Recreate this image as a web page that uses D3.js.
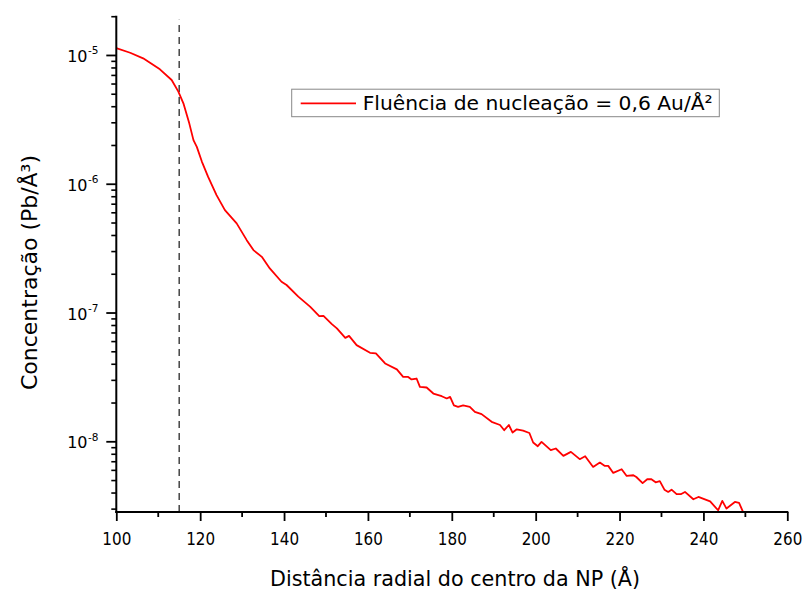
<!DOCTYPE html>
<html>
<head>
<meta charset="utf-8">
<script src="https://cdn.jsdelivr.net/npm/d3@7"></script>
<style>
  html, body { margin: 0; padding: 0; background: #fff; }
  svg { display: block; }
  text { font-family: "DejaVu Sans", Verdana, sans-serif; fill: #000; }
</style>
</head>
<body>
<svg id="chart" width="806" height="593"></svg>
<script>
// Radial distance from the NP centre (Å)
const distance = [
  100, 103.3, 106.4, 110.4, 113.2, 114.8, 116, 117.4, 118.4, 119.2,
  120.4, 121.9, 123.9, 125.9, 128.7, 131.1, 132.7, 134.7, 136.6, 139.4,
  140.6, 143.4, 146.2, 148.4, 149.4, 151.4, 152.6, 154.6, 155.5, 157.3,
  160.5, 161.9, 164.1, 166.9, 168.4, 169.6, 170.4, 171.6, 172.4, 174,
  175.6, 177.6, 178.8, 179.6, 180.5, 181.5, 182.7, 184.3, 185.5, 187.1,
  189.5, 191.5, 192.5, 193.6, 194.5, 195.5, 197, 198.5, 199.4, 200.5,
  201.4, 203.6, 204.8, 206.6, 208.4, 210.5, 211.8, 213.7, 215.3, 216.5,
  217.3, 218.5, 220.5, 221.7, 223.3, 224, 225.5, 226.6, 227.6, 228.6,
  229.6, 230.7, 231.6, 232.4, 233.6, 234.6, 235.6, 237.6, 238.8, 241.6,
  243.5, 244.5, 245.5, 247.5, 248.5, 250
];
// Pb concentration (Pb/Å³)
const concentration = [
  1.14e-5, 1.05e-5, 9.5e-6, 7.8e-6, 6.45e-6, 5.24e-6, 4.25e-6, 2.97e-6, 2.2e-6, 1.95e-6,
  1.5e-6, 1.14e-6, 8.24e-7, 6.3e-7, 4.97e-7, 3.68e-7, 3.08e-7, 2.73e-7, 2.22e-7, 1.75e-7,
  1.65e-7, 1.34e-7, 1.12e-7, 9.46e-8, 9.5e-8, 8.2e-8, 7.6e-8, 6.41e-8, 6.65e-8, 5.63e-8,
  4.91e-8, 4.86e-8, 4.06e-8, 3.65e-8, 3.19e-8, 3.19e-8, 3.05e-8, 3.1e-8, 2.67e-8, 2.64e-8,
  2.37e-8, 2.26e-8, 2.17e-8, 2.23e-8, 1.92e-8, 1.87e-8, 1.92e-8, 1.87e-8, 1.71e-8, 1.64e-8,
  1.43e-8, 1.35e-8, 1.23e-8, 1.35e-8, 1.18e-8, 1.25e-8, 1.22e-8, 1.17e-8, 9.87e-9, 9.24e-9,
  9.98e-9, 8.61e-9, 8.87e-9, 7.78e-9, 8.35e-9, 7.33e-9, 7.73e-9, 6.38e-9, 6.9e-9, 6.5e-9,
  6.5e-9, 5.73e-9, 6.12e-9, 5.43e-9, 5.5e-9, 5.33e-9, 4.78e-9, 5.12e-9, 5.12e-9, 4.85e-9,
  4.95e-9, 4.25e-9, 4.08e-9, 4.25e-9, 3.92e-9, 3.92e-9, 4.08e-9, 3.58e-9, 3.73e-9, 3.45e-9,
  2.94e-9, 3.48e-9, 3.03e-9, 3.41e-9, 3.35e-9, 2.6e-9
];

const xTicks = [100, 120, 140, 160, 180, 200, 220, 240, 260];
const xMinorTicks = [110, 130, 150, 170, 190, 210, 230, 250];
const yDecades = [-5, -6, -7, -8];
const markerDistance = 115;
const seriesLabel = "Fluência de nucleação = 0,6 Au/Å²";
const xTitle = "Distância radial do centro da NP (Å)";
const yTitle = "Concentração (Pb/Å³)";

const svg = d3.select("#chart");
const plotLeft = 116.3, plotRight = 787.3, plotTop = 16.7, plotBottom = 512;

const x = d3.scaleLinear().domain([100, 260]).range([plotLeft, plotRight]);
const y = d3.scaleLog().domain([2.85e-9, 2e-5]).range([plotBottom, plotTop]);

svg.append("rect").attr("width", 806).attr("height", 593).attr("fill", "#fff");

svg.append("defs").append("clipPath").attr("id", "plot-clip")
  .append("rect").attr("x", plotLeft).attr("y", plotTop)
  .attr("width", plotRight - plotLeft).attr("height", plotBottom - plotTop);

// vertical dashed marker
svg.append("line")
  .attr("x1", x(markerDistance)).attr("x2", x(markerDistance))
  .attr("y1", y.range()[0]).attr("y2", y(2e-5) + 3)
  .attr("stroke", "#444").attr("stroke-width", 1.5)
  .attr("stroke-dasharray", "7,5");

// data curve
const points = distance.map((d, i) => [d, concentration[i]]);
svg.append("path")
  .datum(points)
  .attr("clip-path", "url(#plot-clip)")
  .attr("fill", "none")
  .attr("stroke", "#ff0000")
  .attr("stroke-width", 1.8)
  .attr("stroke-linejoin", "round")
  .attr("d", d3.line().x(d => x(d[0])).y(d => y(d[1])));

// x axis
const gx = svg.append("g").attr("transform", `translate(0,${plotBottom})`);
gx.call(d3.axisBottom(x).tickValues(xTicks).tickSize(9).tickSizeOuter(0).tickFormat(d3.format("d")));
gx.select(".domain").attr("stroke", "#000").attr("stroke-width", 2)
  .attr("d", `M${plotLeft - 1},0H${plotRight + 1}`);
gx.selectAll(".tick line").attr("stroke", "#000").attr("stroke-width", 1.8);
gx.selectAll(".tick text")
  .attr("y", 33).attr("dy", null)
  .style("font-family", "DejaVu Sans").style("font-size", "18px")
  .attr("textLength", 29).attr("lengthAdjust", "spacingAndGlyphs");
gx.selectAll(".minor").data(xMinorTicks).enter().append("line")
  .attr("x1", d => x(d)).attr("x2", d => x(d))
  .attr("y1", 0).attr("y2", 5)
  .attr("stroke", "#000").attr("stroke-width", 1.8);

// y axis
const gy = svg.append("g").attr("transform", `translate(${plotLeft},0)`);
gy.append("line").attr("x1", 0).attr("x2", 0).attr("y1", plotTop - 1).attr("y2", plotBottom + 1)
  .attr("stroke", "#000").attr("stroke-width", 2);

const yMinor = [];
for (let e = -9; e <= -5; e++) {
  for (let m = 2; m <= 9; m++) {
    const v = m * Math.pow(10, e);
    if (v >= y.domain()[0] && v <= y.domain()[1] * 1.0001) yMinor.push(v);
  }
}
gy.selectAll(".yminor").data(yMinor).enter().append("line")
  .attr("x1", -5).attr("x2", 0)
  .attr("y1", d => y(d)).attr("y2", d => y(d))
  .attr("stroke", "#000").attr("stroke-width", 1.6);
gy.selectAll(".ymajor").data(yDecades).enter().append("line")
  .attr("x1", -10).attr("x2", 0)
  .attr("y1", d => y(Math.pow(10, d))).attr("y2", d => y(Math.pow(10, d)))
  .attr("stroke", "#000").attr("stroke-width", 1.8);

// decade labels: "10" with a raised exponent
const ylab = svg.selectAll(".ylab").data(yDecades).enter().append("g")
  .attr("transform", d => `translate(0,${y(Math.pow(10, d))})`);
ylab.append("text")
  .attr("x", 87.5).attr("y", 6.5)
  .attr("text-anchor", "end")
  .style("font-size", "16px")
  .text("10");
ylab.append("text")
  .attr("x", 88).attr("y", -1)
  .attr("text-anchor", "start")
  .style("font-size", "10.5px")
  .text(d => String(d));

// axis titles
svg.append("text")
  .attr("x", 270).attr("y", 586)
  .style("font-size", "21px")
  .attr("textLength", 370).attr("lengthAdjust", "spacingAndGlyphs")
  .text(xTitle);

svg.append("text")
  .attr("transform", "translate(37,390) rotate(-90)")
  .style("font-size", "21px")
  .attr("textLength", 235).attr("lengthAdjust", "spacingAndGlyphs")
  .text(yTitle);

// legend
const legend = svg.append("g");
legend.append("rect")
  .attr("x", 291.7).attr("y", 89.2).attr("width", 427.6).attr("height", 27.5)
  .attr("fill", "#fff").attr("stroke", "#888").attr("stroke-width", 1);
legend.append("line")
  .attr("x1", 300.7).attr("x2", 356).attr("y1", 103.3).attr("y2", 103.3)
  .attr("stroke", "#ff0000").attr("stroke-width", 1.8);
legend.append("text")
  .attr("x", 362.7).attr("y", 109.5)
  .style("font-size", "20px")
  .attr("textLength", 350).attr("lengthAdjust", "spacingAndGlyphs")
  .text(seriesLabel);
</script>
</body>
</html>
